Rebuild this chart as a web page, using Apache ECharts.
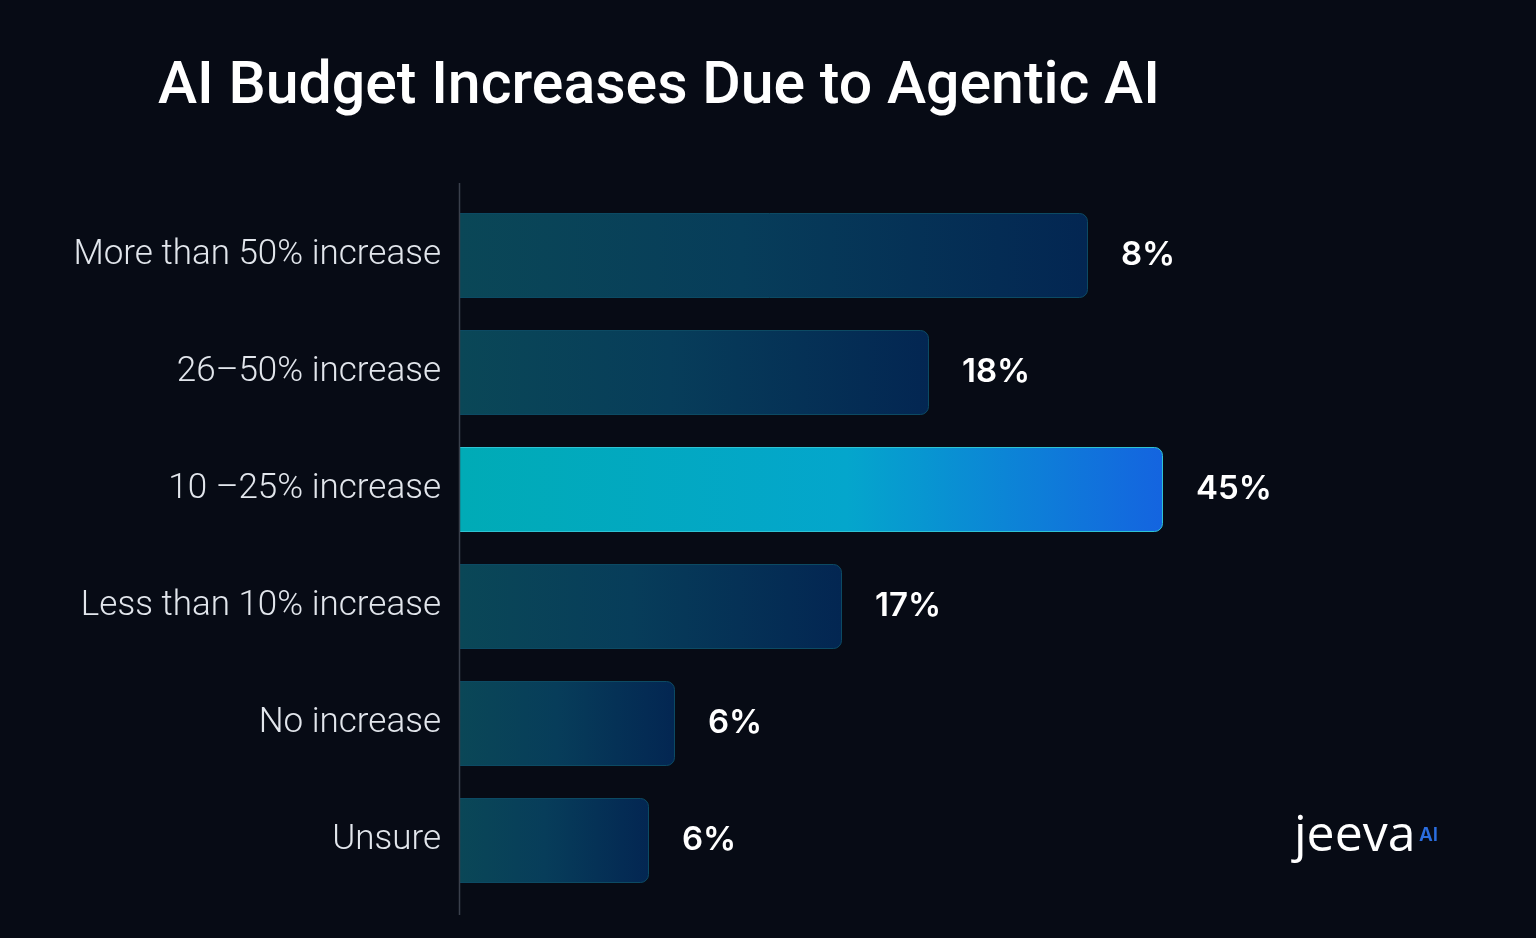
<!DOCTYPE html>
<html>
<head>
<meta charset="utf-8">
<title>AI Budget Increases Due to Agentic AI</title>
<script src="https://cdn.jsdelivr.net/npm/echarts@6/dist/echarts.min.js"></script>
<style>
  html, body { margin: 0; padding: 0; background: #070b15; }
  #chart { width: 1536px; height: 938px; }
</style>
</head>
<body>
<div id="chart"></div>
<script>
// categories, top to bottom
const categories = [
  'More than 50% increase',
  '26\u201350% increase',
  '10 \u201325% increase',
  'Less than 10% increase',
  'No increase',
  'Unsure'
];
// percentages printed next to each bar
const percentValues = [8, 18, 45, 17, 6, 6];
// bar lengths as drawn in the picture (relative scale 0-100, not proportional to the printed %)
const barLengths = [62.9, 47.0, 70.4, 38.3, 21.6, 19.0];
// which bar is highlighted
const highlightIndex = 2;

const chart = echarts.init(document.getElementById('chart'));

const normalColor = new echarts.graphic.LinearGradient(0, 0, 1, 0, [
  { offset: 0, color: '#0a4757' },
  { offset: 0.45, color: '#073d5a' },
  { offset: 1, color: '#032652' }
]);
const highlightColor = new echarts.graphic.LinearGradient(0, 0, 1, 0, [
  { offset: 0, color: '#00abb6' },
  { offset: 0.55, color: '#04a6cc' },
  { offset: 1, color: '#1464e0' }
]);

const seriesData = barLengths.map((v, i) => ({
  value: v,
  pct: percentValues[i],
  itemStyle: i === highlightIndex
    ? { color: highlightColor, borderColor: '#2fc3d2', borderWidth: 1 }
    : { color: normalColor, borderColor: '#0c4a63', borderWidth: 1 }
}));

chart.setOption({
  backgroundColor: '#070b15',
  title: {
    text: 'AI Budget Increases Due to Agentic AI',
    left: 153,
    top: 54,
    textStyle: {
      color: '#ffffff',
      fontFamily: 'Roboto',
      fontWeight: 500,
      fontSize: 59
    }
  },
  grid: {
    left: 459,
    right: 77,
    top: 197,
    bottom: 39,
    containLabel: false
  },
  xAxis: {
    type: 'value',
    min: 0,
    max: 100,
    show: false
  },
  yAxis: {
    type: 'category',
    inverse: true,
    data: categories,
    axisLine: { show: false },
    axisTick: { show: false },
    axisLabel: {
      margin: 18,
      color: '#e2e6ec',
      fontFamily: 'Roboto',
      fontWeight: 300,
      fontSize: 35
    }
  },
  series: [{
    type: 'bar',
    barWidth: 85,
    data: seriesData,
    itemStyle: { borderRadius: [0, 8, 8, 0] },
    label: {
      show: true,
      position: 'right',
      distance: 33,
      formatter: p => p.data.pct + '%',
      color: '#ffffff',
      fontFamily: 'Inter',
      fontWeight: 600,
      fontSize: 33
    }
  }],
  graphic: [
    {
      type: 'line',
      shape: { x1: 459.5, y1: 183, x2: 459.5, y2: 915 },
      style: { stroke: '#3a404c', lineWidth: 1.5 },
      z: 10
    },
    {
      type: 'text',
      left: 1294,
      top: 812,
      style: {
        text: 'jeeva',
        fill: '#ffffff',
        font: '500 50px "Open Sans"'
      }
    },
    {
      type: 'text',
      left: 1419,
      top: 826,
      style: {
        text: 'AI',
        fill: '#2b6ee0',
        font: '600 19px Inter'
      }
    }
  ]
});
</script>
</body>
</html>
